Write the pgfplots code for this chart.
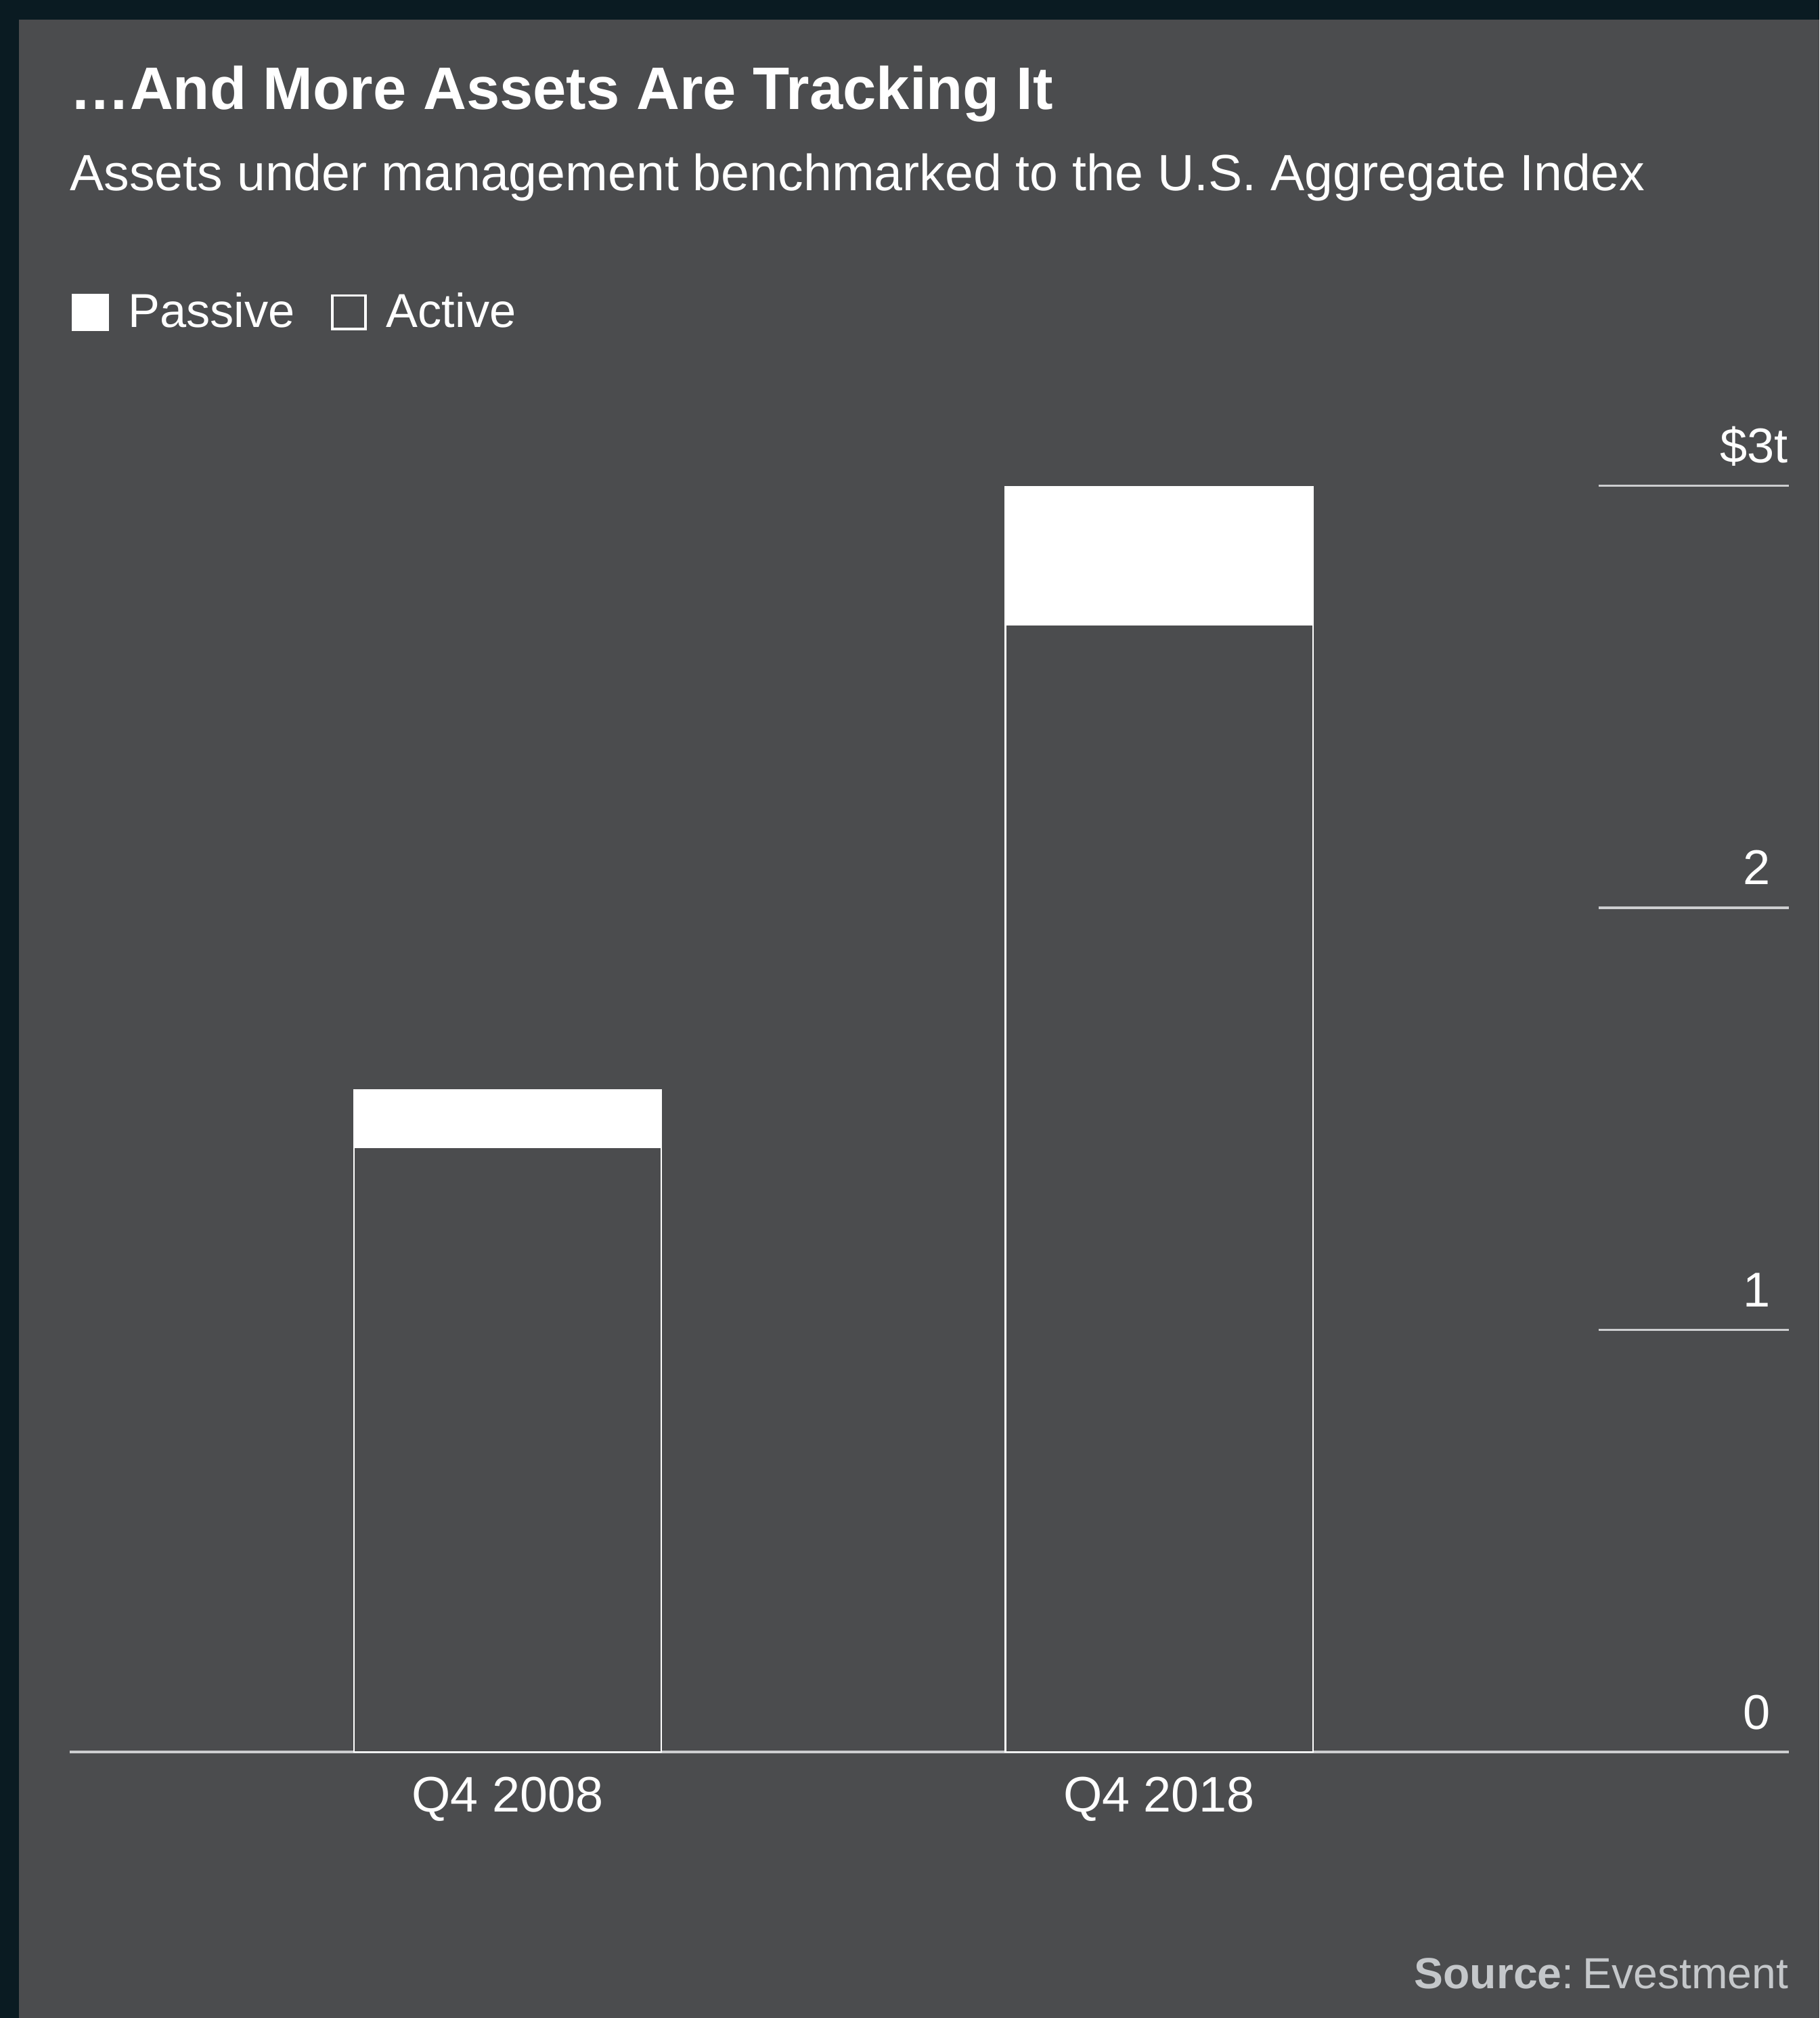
\documentclass[border=0pt]{standalone}
\usepackage{fontspec}
\setmainfont{Liberation Sans}
\usepackage{pgfplots}
\pgfplotsset{compat=1.18}
\definecolor{bgc}{RGB}{75,76,78}
\definecolor{borderc}{RGB}{10,27,34}
\definecolor{gridc}{RGB}{205,206,208}
\definecolor{srcc}{RGB}{196,199,202}
\newcommand{\tpad}{\rule{6.8pt}{0pt}}
\begin{document}
\begin{tikzpicture}
\fill[borderc] (0,0) rectangle (707pt,-784pt);
\fill[bgc] (7.4pt,-7.5pt) rectangle (707pt,-784pt);
\useasboundingbox (0,0) rectangle (707pt,-784pt);
\node[anchor=base west, inner sep=0pt, text=white, font=\fontsize{23.3}{28}\selectfont\bfseries] at (27pt,-42.5pt) {…And More Assets Are Tracking It};
\node[anchor=base west, inner sep=0pt, text=white, font=\fontsize{19.8}{24}\selectfont] at (27pt,-74pt) {Assets under management benchmarked to the U.S. Aggregate Index};
\node[anchor=base east, inner sep=0pt, text=srcc, font=\fontsize{16.9}{20}\selectfont] at (695pt,-772.5pt) {\textbf{Source}:\hspace{0.2em}Evestment};
\begin{axis}[
  at={(27pt,-680.7pt)}, anchor=south west,
  scale only axis, width=668pt, height=524.8pt,
  xmin=-0.6722, xmax=1.966, ymin=0, ymax=3.2,
  ybar stacked, bar width=119.5pt,
  axis line style={draw=none},
  major tick length=0pt,
  tick style={draw=none},
  xtick={0,1}, xticklabels={Q4 2008, Q4 2018},
  ytick={0,1,2,3}, yticklabels={0\tpad,1\tpad,2\tpad,\$3t},
  yticklabel pos=right,
  yticklabel style={anchor=base east, inner sep=0pt, yshift=9pt, text=white, font=\fontsize{19}{22}\selectfont},
  xticklabel style={anchor=base, inner sep=0pt, yshift=-23.3pt, text=white, font=\fontsize{19.4}{22}\selectfont},
  clip=false,
  legend columns=2,
  legend cell align=left,
  legend style={at={(0.0014,1.0659)}, anchor=west, draw=none, fill=none, inner sep=0pt, outer sep=0pt,
    text=white, font=\fontsize{18.5}{22}\selectfont,
    nodes={inner sep=0pt},
    /tikz/every odd column/.append style={column sep=7.5pt},
    /tikz/every even column/.append style={column sep=14pt}},
]
\addlegendimage{legend image code/.code={\fill[white] (0pt,-7pt) rectangle (14pt,7pt);}}
\addlegendentry{Passive}
\addlegendimage{legend image code/.code={\draw[white, line width=1pt] (0.5pt,-6.5pt) rectangle (13.5pt,6.5pt);}}
\addlegendentry{Active}
\addplot[forget plot, fill=bgc, draw=white, line width=0.6pt] coordinates {(0,1.432) (1,2.671)};
\addplot[forget plot, fill=white, draw=white, line width=0.6pt] coordinates {(0,0.136) (1,0.327)};
\draw[gridc, line width=1.1pt] (axis cs:-0.6722,0) -- (axis cs:1.966,0);
\draw[gridc, line width=0.9pt] (axis cs:1.674,1) -- (axis cs:1.966,1);
\draw[gridc, line width=0.9pt] (axis cs:1.674,2) -- (axis cs:1.966,2);
\draw[gridc, line width=0.9pt] (axis cs:1.674,3) -- (axis cs:1.966,3);
\end{axis}
\end{tikzpicture}
\end{document}
